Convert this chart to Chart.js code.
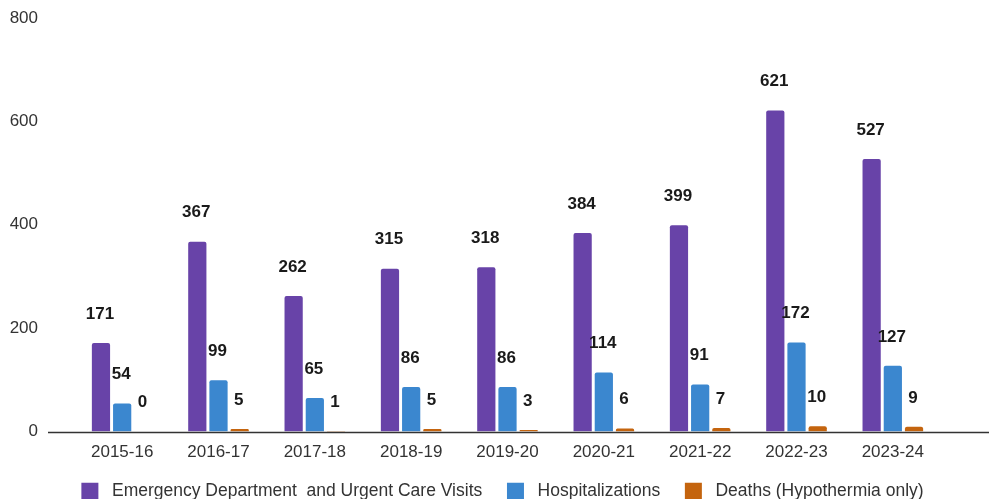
<!DOCTYPE html>
<html>
<head>
<meta charset="utf-8">
<script src="https://cdn.jsdelivr.net/npm/chart.js@4.4.1/dist/chart.umd.min.js"></script>
<style>
  html, body { margin: 0; padding: 0; background: #fff; }
  #wrap { width: 989px; height: 499px; position: relative; }
</style>
</head>
<body>
<div id="wrap"><canvas id="chart" width="989" height="499"></canvas></div>
<script>
// data
const seasons = ["2015-16", "2016-17", "2017-18", "2018-19", "2019-20", "2020-21", "2021-22", "2022-23", "2023-24"];
const edVisits = [171, 367, 262, 315, 318, 384, 399, 621, 527];
const hospitalizations = [54, 99, 65, 86, 86, 114, 91, 172, 127];
const deaths = [0, 5, 1, 5, 3, 6, 7, 10, 9];
const yTicks = [0, 200, 400, 600, 800];

const seriesNames = [
    "Emergency Department  and Urgent Care Visits",
    "Hospitalizations",
    "Deaths (Hypothermia only)"
];
const seriesColors = ["#6843a8", "#3b87cf", "#c4640e"];

const FONT = "'Liberation Sans', Arial, sans-serif";

// bold numbers above each bar
const valueLabels = {
    id: 'valueLabels',
    afterDatasetsDraw(chart) {
        const ctx = chart.ctx;
        ctx.save();
        ctx.font = "bold 17px " + FONT;
        ctx.fillStyle = "#1a1a1a";
        ctx.textAlign = "center";
        ctx.textBaseline = "middle";
        chart.data.datasets.forEach((ds, i) => {
            const meta = chart.getDatasetMeta(i);
            meta.data.forEach((bar, j) => {
                ctx.fillText(String(ds.data[j]), bar.x - 1, bar.y - 29);
            });
        });
        ctx.restore();
    }
};

// baseline that runs past the plot area like in the original
const baseLine = {
    id: 'baseLine',
    afterDatasetsDraw(chart) {
        const ctx = chart.ctx;
        const y = chart.scales.y.getPixelForValue(0) + 1;
        ctx.save();
        ctx.strokeStyle = "#333";
        ctx.lineWidth = 1.5;
        ctx.beginPath();
        ctx.moveTo(48, y);
        ctx.lineTo(989, y);
        ctx.stroke();
        ctx.restore();
    }
};

const defaultLabels = Chart.defaults.plugins.legend.labels.generateLabels;

new Chart(document.getElementById("chart").getContext("2d"), {
    type: 'bar',
    data: {
        labels: seasons,
        datasets: [edVisits, hospitalizations, deaths].map((d, i) => ({
            label: seriesNames[i],
            data: d,
            backgroundColor: seriesColors[i],
            borderRadius: 2,
            borderSkipped: 'bottom',
            categoryPercentage: 0.66,
            barPercentage: 0.86
        }))
    },
    options: {
        responsive: false,
        animation: false,
        layout: { padding: { top: 18, right: -16, left: 0, bottom: -11 } },
        scales: {
            y: {
                min: 0,
                max: 800,
                afterBuildTicks: axis => { axis.ticks = yTicks.map(v => ({ value: v })); },
                grid: { display: false, drawTicks: false },
                border: { display: false },
                ticks: {
                    color: "#333",
                    padding: 36,
                    font: { family: FONT, size: 17 }
                },
                afterFit: axis => {
                    axis.width = 74;
                    axis.paddingTop = 0;
                    axis.paddingBottom = 0;
                }
            },
            // empty right-hand axis, only keeps the plot clear of the right edge
            yRight: {
                position: 'right',
                grid: { display: false, drawTicks: false },
                border: { display: false },
                ticks: { display: false },
                afterFit: axis => {
                    axis.width = 64;
                    axis.paddingTop = 0;
                    axis.paddingBottom = 0;
                }
            },
            x: {
                grid: { display: false, drawTicks: false },
                border: { display: false },
                ticks: {
                    color: "#333",
                    padding: 11,
                    font: { family: FONT, size: 17 }
                },
                afterFit: axis => {
                    axis.height = 36;
                    axis.paddingLeft = 0;
                    axis.paddingRight = 0;
                }
            }
        },
        plugins: {
            legend: {
                position: 'bottom',
                labels: {
                    boxWidth: 17,
                    boxHeight: 17,
                    padding: 15,
                    color: "#333",
                    font: { family: FONT, size: 17.5 },
                    // a little extra room around each name, as in the original legend
                    generateLabels: chart => defaultLabels(chart).map((item, i, all) => {
                        item.text = " " + item.text + (i < all.length - 1 ? "  " : "");
                        return item;
                    })
                }
            },
            tooltip: { enabled: false }
        }
    },
    plugins: [valueLabels, baseLine]
});
</script>
</body>
</html>
